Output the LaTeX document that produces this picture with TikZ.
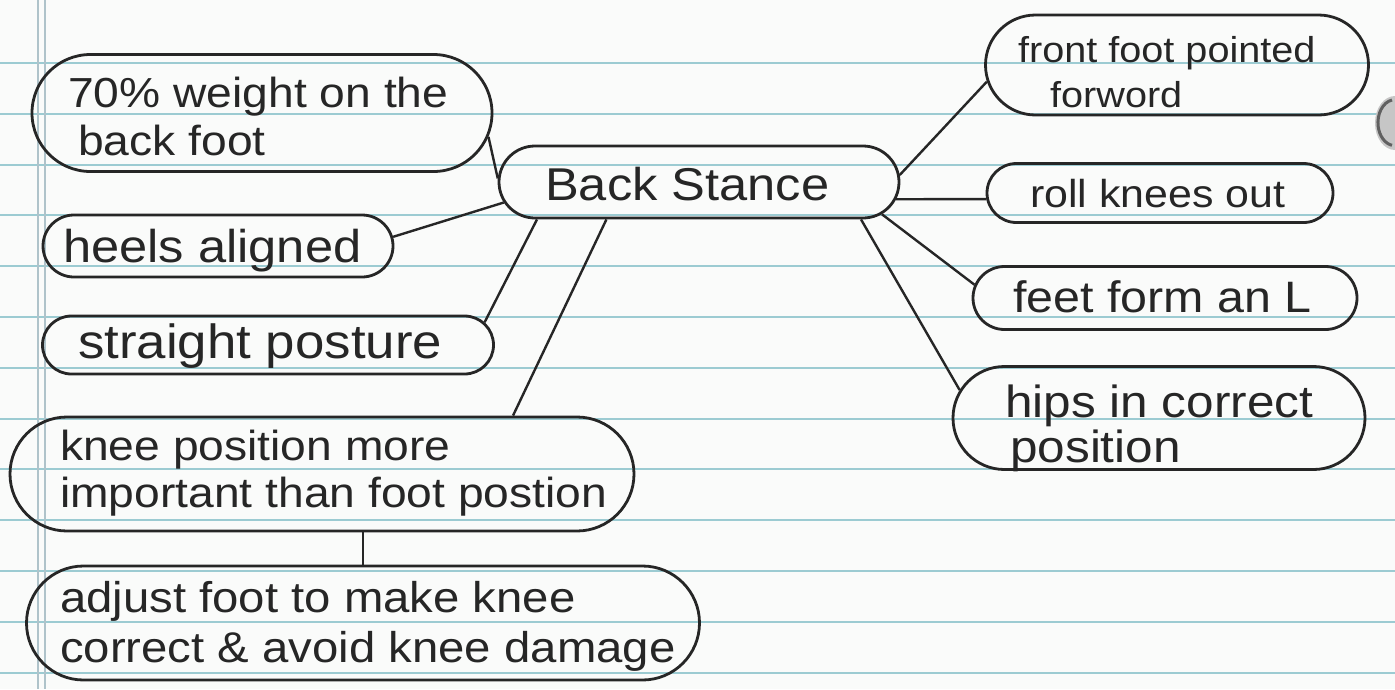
\documentclass[tikz,border=0pt]{standalone}
\usepackage{fontspec}
\usetikzlibrary{shapes.misc}
\newfontfamily\hand[FakeStretch=1.1]{Liberation Sans}
\newcommand{\hf}[2]{\hand\fontsize{#1}{#2}\selectfont}
\definecolor{paper}{HTML}{FAFBFA}
\definecolor{rulecol}{HTML}{9CCBD2}
\definecolor{margincol}{HTML}{AFC3CA}
\definecolor{ink}{HTML}{262626}
\tikzset{
  bubble/.style={draw=ink, line width=2.8pt, rounded rectangle, inner sep=0pt},
  txt/.style={inner sep=0pt, anchor=base west, align=left, text=ink},
  link/.style={draw=ink, line width=2.4pt},
}
\begin{document}
\begin{tikzpicture}[x=1pt,y=-1pt]
\fill[paper] (0,0) rectangle (1395,689);
\useasboundingbox (0,0) rectangle (1395,689);
% ruled paper
\foreach \k in {0,...,12} \draw[rulecol, line width=2pt] (0,63+50.8*\k) -- (1395,63+50.8*\k);
\draw[margincol, line width=1.5pt] (38,0) -- (38,689);
\draw[margincol, line width=1.5pt] (45,0) -- (45,689);
% punch hole
\fill[gray!45] (1395,123) ellipse [x radius=20, y radius=27];
\draw[gray!75!black, line width=3pt] (1392,100) arc[start angle=-100, end angle=-260, x radius=17, y radius=23];

% bubbles
\node[bubble, minimum width=460pt, minimum height=117pt] (o70) at (262,113) {};
\node[bubble, minimum width=350pt, minimum height=62pt] (ohe) at (218,246) {};
\node[bubble, minimum width=451pt, minimum height=58pt] (ost) at (268,345) {};
\node[bubble, minimum width=624pt, minimum height=114pt] (okn) at (322,474) {};
\node[bubble, minimum width=673pt, minimum height=114pt] (oad) at (363,623) {};
\node[bubble, minimum width=400pt, minimum height=72pt] (obs) at (699,182) {};
\node[bubble, minimum width=383pt, minimum height=100pt] (off) at (1177,65) {};
\node[bubble, minimum width=346pt, minimum height=59pt] (orl) at (1160,193) {};
\node[bubble, minimum width=384pt, minimum height=63pt] (oft) at (1165,298) {};
\node[bubble, minimum width=412pt, minimum height=103pt] (ohp) at (1159,418) {};

% texts (base anchor of a two-line text is its last line)
\node[txt, font=\hf{42}{48}] (t70) at (68,155) {70\% weight on the\\\hspace*{10pt}back foot};
\node[txt, font=\hf{46}{50}] (the) at (63,262) {heels aligned};
\node[txt, font=\hf{48}{50}] (tst) at (78,358) {straight posture};
\node[txt, font=\hf{42}{47}] (tkn) at (60,507) {knee position more\\important than foot postion};
\node[txt, font=\hf{43}{50}] (tad) at (60,662) {adjust foot to make knee\\correct \& avoid knee damage};
\node[txt, font=\hf{46}{50}] (tbs) at (545,200) {Back Stance};
\node[txt, font=\hf{36}{45}] (tff) at (1018,107) {front foot pointed\\\hspace*{32pt}forword};
\node[txt, font=\hf{39}{45}] (trl) at (1030,207) {roll knees out};
\node[txt, font=\hf{44}{45}] (tft) at (1013,312) {feet form an L};
\node[txt, font=\hf{45}{45}] (thp) at (1005,462) {hips in correct\\\hspace*{5pt}position};

% connectors
\draw[link] (o70.-6) -- (obs.179);
\draw[link] (ohe.3) -- (obs.186);
\draw[link] (ost.6) -- (obs.193);
\draw[link] (okn.17) -- (obs.202);
\draw[link] (okn.south -| oad.north) -- (oad.north);
\draw[link] (obs.2) -- (off.185);
\draw[link] (obs.-5) -- (orl.182);
\draw[link] (obs.-10) -- (oft.176);
\draw[link] (obs.-13) -- (ohp.172);
\end{tikzpicture}
\end{document}
